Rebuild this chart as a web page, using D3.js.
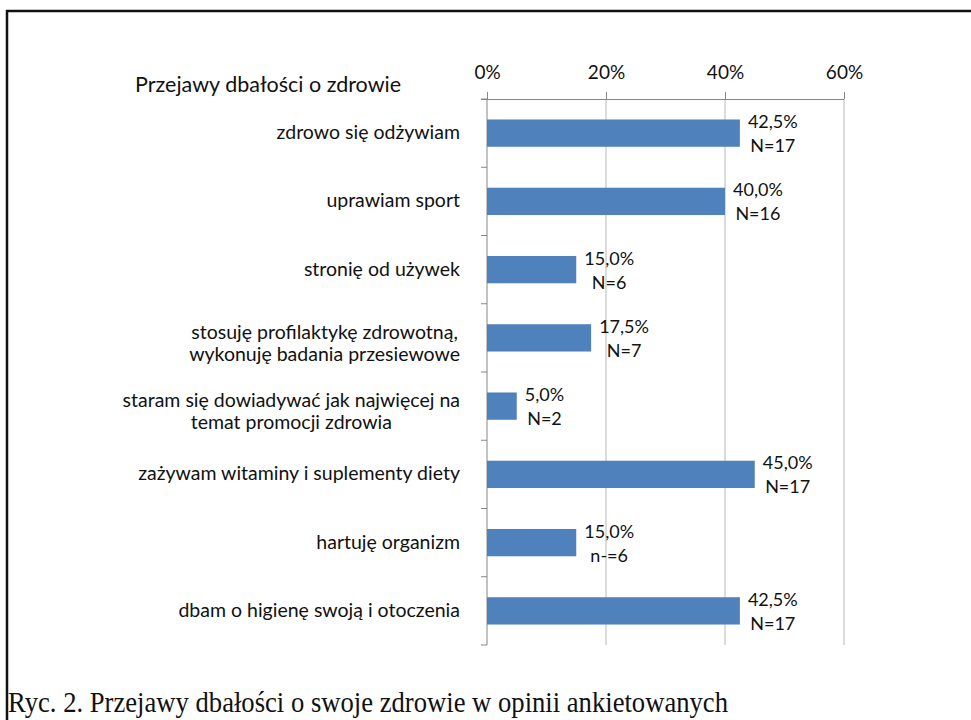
<!DOCTYPE html>
<html><head><meta charset="utf-8">
<script src="https://cdn.jsdelivr.net/npm/d3@7"></script>
<style>body{margin:0;background:#fff}svg{display:block}</style>
</head><body>
<script>
const categories = [
  ["zdrowo się odżywiam"],
  ["uprawiam sport"],
  ["stronię od używek"],
  ["stosuję profilaktykę zdrowotną,", "wykonuję badania przesiewowe"],
  ["staram się dowiadywać jak najwięcej na", "temat promocji zdrowia"],
  ["zażywam witaminy i suplementy diety"],
  ["hartuję organizm"],
  ["dbam o higienę swoją i otoczenia"]
];
const values = [42.5, 40.0, 15.0, 17.5, 5.0, 45.0, 15.0, 42.5];
const counts = ["N=17", "N=16", "N=6", "N=7", "N=2", "N=17", "n-=6", "N=17"];
const xTicks = [0, 20, 40, 60];
const chartTitle = "Przejawy dbałości o zdrowie";
const caption = "Ryc. 2. Przejawy dbałości o swoje zdrowie w opinii ankietowanych";

(function () {
const W = 971, H = 720;
const svg = d3.select("body").append("svg").attr("width", W).attr("height", H);
const font = "Lato, 'Open Sans', sans-serif";

// frame
svg.append("path").attr("d", `M7,${H} L7,11 L${W},11`).attr("fill", "none")
  .attr("stroke", "#111").attr("stroke-width", 2.5);

const x = d3.scaleLinear().domain([0, 60]).range([487, 844]);
const idx = d3.range(categories.length);
const y = d3.scaleBand().domain(idx).range([99, 645]).paddingInner(0.6).paddingOuter(0.3);
const step = y.step();
const yTop = 99, yBottom = 645;

// gridlines
svg.append("g").selectAll("line").data(xTicks.slice(1)).join("line")
  .attr("x1", d => x(d)).attr("x2", d => x(d)).attr("y1", yTop).attr("y2", yBottom)
  .attr("stroke", "#b8b8b8").attr("stroke-width", 1);

// top axis
const axTop = svg.append("g").attr("transform", `translate(0,${yTop})`)
  .call(d3.axisTop(x).tickValues(xTicks).tickSize(7).tickPadding(13).tickFormat(d => d + "%"));
axTop.select(".domain").attr("stroke", "#868686").attr("d", `M${x(0)-6},0.5H${x(60)}`);
axTop.selectAll(".tick line").attr("stroke", "#868686");
axTop.selectAll(".tick text").attr("font-family", font).attr("font-size", 19).attr("fill", "#111");

// left axis with ticks at band boundaries
const bounds = d3.range(categories.length + 1).map(i => yTop + i * step);
svg.append("line").attr("x1", x(0)).attr("x2", x(0)).attr("y1", yTop).attr("y2", yBottom)
  .attr("stroke", "#868686");
svg.append("g").selectAll("line").data(bounds).join("line")
  .attr("x1", x(0) - 6).attr("x2", x(0)).attr("y1", d => d).attr("y2", d => d)
  .attr("stroke", "#868686");

// bars
svg.append("g").selectAll("rect").data(values).join("rect")
  .attr("x", x(0)).attr("y", (d, i) => y(i)).attr("width", d => x(d) - x(0))
  .attr("height", y.bandwidth()).attr("fill", "#4f81bd");

// category labels
const catG = svg.append("g").attr("font-family", font).attr("font-size", 19.5).attr("fill", "#111");
categories.forEach((lines, i) => {
  const cy = y(i) + y.bandwidth() / 2;
  const g = catG.append("g");
  const offs = lines.length === 1 ? [6] : [1, 23];
  const txts = lines.map((l, j) => g.append("text").text(l).attr("y", cy + offs[j]).attr("text-anchor", "middle"));
  const maxW = d3.max(txts, t => t.node().getComputedTextLength());
  txts.forEach(t => t.attr("x", 460 - maxW / 2));
});

// data labels
const fmt = v => v.toFixed(1).replace(".", ",") + "%";
const labG = svg.append("g").attr("font-family", font).attr("font-size", 18).attr("fill", "#111");
values.forEach((v, i) => {
  const cy = y(i) + y.bandwidth() / 2;
  const t1 = labG.append("text").text(fmt(v)).attr("y", cy - 5).attr("text-anchor", "middle");
  const t2 = labG.append("text").text(counts[i]).attr("y", cy + 19).attr("text-anchor", "middle");
  const mw = Math.max(t1.node().getComputedTextLength(), t2.node().getComputedTextLength());
  const cx = x(v) + 8 + mw / 2;
  t1.attr("x", cx); t2.attr("x", cx);
});

// chart title
svg.append("text").text(chartTitle).attr("x", 135).attr("y", 92)
  .attr("font-family", font).attr("font-size", 21.5).attr("fill", "#111");

// caption
svg.append("text").text(caption).attr("x", 8).attr("y", 712)
  .attr("font-family", "'Liberation Serif', 'Times New Roman', serif").attr("font-size", 29)
  .attr("textLength", 720).attr("lengthAdjust", "spacingAndGlyphs").attr("fill", "#111");
})();
</script>
</body></html>
